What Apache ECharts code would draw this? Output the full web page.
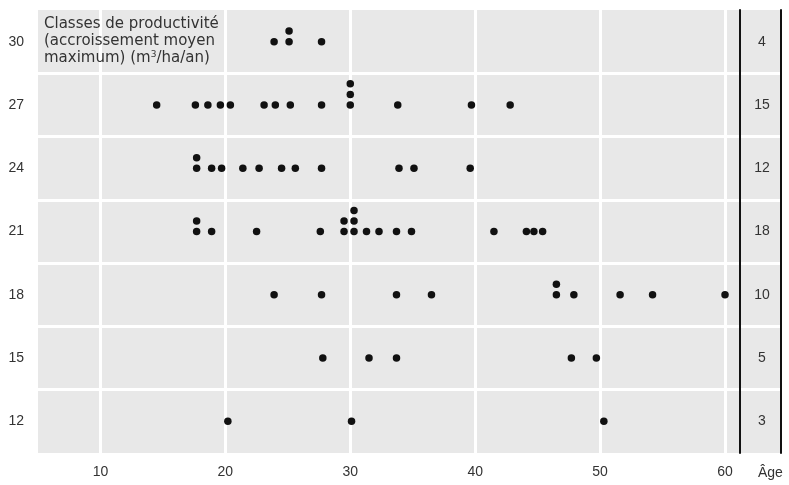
<!DOCTYPE html>
<html>
<head>
<meta charset="utf-8">
<script src="https://cdn.jsdelivr.net/npm/echarts@6/dist/echarts.min.js"></script>
<style>
html,body{margin:0;padding:0;background:#fff;}
#chart{width:789px;height:485px;}
</style>
</head>
<body>
<div id="chart"></div>
<script>
// Productivity classes (m3/ha/an) and number of stands per class
const classes = [12, 15, 18, 21, 24, 27, 30];
const counts = [3, 5, 10, 18, 12, 15, 4];
// Ages of stands in each class (repeated values = stacked dots)
const ages12 = [20.2, 30.1, 50.3];
const ages15 = [27.8, 31.5, 33.7, 47.7, 49.7];
const ages18 = [23.9, 27.7, 33.7, 36.5, 46.5, 46.5, 47.9, 51.6, 54.2, 60.0];
const ages21 = [17.7, 17.7, 18.9, 22.5, 27.6, 29.5, 29.5, 30.3, 30.3, 30.3, 31.3, 32.3, 33.7, 34.9, 41.5, 44.1, 44.7, 45.4];
const ages24 = [17.7, 17.7, 18.9, 19.7, 21.4, 22.7, 24.5, 25.6, 27.7, 33.9, 35.1, 39.6];
const ages27 = [14.5, 17.6, 18.6, 19.6, 20.4, 23.1, 24.0, 25.2, 27.7, 30.0, 30.0, 30.0, 33.8, 39.7, 42.8];
const ages30 = [23.9, 25.1, 25.1, 27.7];
const xTicks = [10, 20, 30, 40, 50, 60];
const titleText = 'Classes de productivité\n(accroissement moyen\nmaximum) (m{sup|3}/ha/an)';
const xName = 'Âge';

const agesByClass = [ages12, ages15, ages18, ages21, ages24, ages27, ages30];
const STACK_STEP = 0.5;
const points = [];
agesByClass.forEach(function (ages, i) {
  const seen = {};
  ages.forEach(function (a) {
    const k = seen[a] || 0;
    seen[a] = k + 1;
    points.push([a, classes[i] + k * STACK_STEP]);
  });
});

const FONT = 'Liberation Sans, Arial, sans-serif';
const TFONT = 'DejaVu Sans, Liberation Sans, sans-serif';
const TXT = '#333';
const BG = '#e8e8e8';

const chart = echarts.init(document.getElementById('chart'), null, {renderer: 'canvas'});
chart.setOption({
  animation: false,
  backgroundColor: '#fff',
  title: {
    text: titleText,
    left: 44, top: 16, padding: 0,
    textStyle: {
      fontFamily: TFONT, fontSize: 15, fontWeight: 'normal', lineHeight: 17, color: TXT,
      rich: {sup: {fontFamily: TFONT, fontSize: 9, color: TXT, padding: [0, 0, 7, 0]}}
    }
  },
  grid: [
    {left: 38, right: 49, top: 10, bottom: 32, show: true, backgroundColor: BG, borderWidth: 0},
    {left: 740, right: 8, top: 10, bottom: 32, show: true, backgroundColor: BG, borderWidth: 0}
  ],
  xAxis: [
    {
      gridIndex: 0, type: 'value', min: 5, max: 61.2, splitNumber: 5,
      axisLine: {show: false}, axisTick: {show: false},
      axisLabel: {
        fontFamily: FONT, fontSize: 14, color: TXT, margin: 12,
        showMinLabel: false, showMaxLabel: false,
        formatter: function (v) { return xTicks.indexOf(v) >= 0 ? String(v) : ''; }
      },
      splitLine: {show: true, showMinLine: false, showMaxLine: false, lineStyle: {color: '#fff', width: 3}},
      name: xName, nameLocation: 'end', nameGap: 18,
      nameTextStyle: {fontFamily: FONT, fontSize: 14, color: TXT, verticalAlign: 'top', padding: [13, 0, 0, 0]}
    },
    {gridIndex: 1, type: 'value', show: false, min: 0, max: 1}
  ],
  yAxis: [
    {
      gridIndex: 0, type: 'category', data: classes.map(String), boundaryGap: true,
      axisLine: {show: false}, axisTick: {show: false},
      axisLabel: {fontFamily: FONT, fontSize: 14, color: TXT, margin: 14},
      splitLine: {show: true, interval: 0, showMinLine: false, showMaxLine: false, lineStyle: {color: '#fff', width: 3}}
    },
    {gridIndex: 0, type: 'value', min: 10.5, max: 31.5, show: false},
    {
      gridIndex: 1, type: 'category', data: counts.map(String), boundaryGap: true, position: 'left',
      axisLine: {show: true, lineStyle: {color: '#111', width: 2}}, axisTick: {show: false},
      axisLabel: {inside: true, align: 'center', margin: 22, fontFamily: FONT, fontSize: 14, color: TXT},
      splitLine: {show: true, interval: 0, showMinLine: false, showMaxLine: false, lineStyle: {color: '#fff', width: 3}}
    },
    {
      gridIndex: 1, type: 'category', data: counts.map(String), boundaryGap: true, position: 'right',
      axisLine: {show: true, lineStyle: {color: '#111', width: 2}}, axisTick: {show: false},
      axisLabel: {show: false}, splitLine: {show: false}
    }
  ],
  series: [
    {
      type: 'scatter', xAxisIndex: 0, yAxisIndex: 1,
      data: points, symbol: 'circle', symbolSize: 7.5,
      itemStyle: {color: '#111', opacity: 1}
    }
  ]
});
</script>
</body>
</html>
